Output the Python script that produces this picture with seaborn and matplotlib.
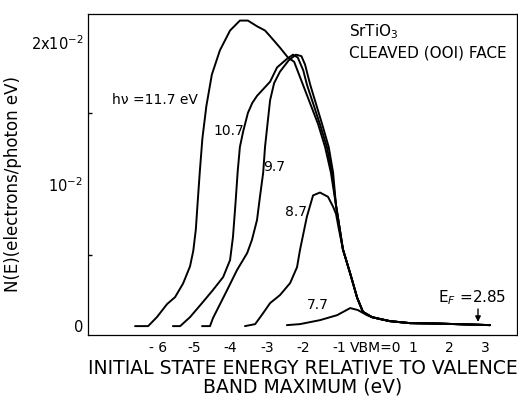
import numpy as np
import pandas as pd
import matplotlib
matplotlib.use("Agg")
import matplotlib.pyplot as plt
import seaborn as sns

# ---- data (energy in eV, N(E) in units of 1e-2 electrons/photon eV) ----
# shared high-energy tail of all spectra
tail_x = [-0.91, -0.71, -0.52, -0.36, -0.11, 0.11, 0.38, 0.93, 1.68, 3.13]
tail_y = [0.54, 0.37, 0.20, 0.10, 0.063, 0.05, 0.035, 0.021, 0.018, 0.007]

x_117 = [-6.62, -6.26, -6.02, -5.74, -5.52, -5.30, -5.11, -5.02, -4.95, -4.90, -4.84, -4.77,
         -4.66, -4.51, -4.29, -4.01, -3.74, -3.52, -3.27, -3.05, -2.91, -2.64, -2.42, -2.25,
         -2.01, -1.59, -1.40, -1.24, -1.10]
y_117 = [0.0, 0.0, 0.063, 0.155, 0.204, 0.30, 0.42, 0.53, 0.68, 0.87, 1.09, 1.32,
         1.55, 1.77, 1.94, 2.08, 2.15, 2.15, 2.11, 2.08, 2.04, 1.96, 1.89, 1.86,
         1.70, 1.42, 1.26, 1.08, 0.85]

x_107 = [-5.58, -5.38, -5.11, -4.78, -4.48, -4.20, -4.01, -3.93, -3.86, -3.80, -3.74, -3.65,
         -3.52, -3.40, -3.27, -2.91, -2.72, -2.45, -2.28, -2.15, -2.00, -1.90, -1.54, -1.35,
         -1.21, -1.10]
y_107 = [0.0, 0.0, 0.063, 0.162, 0.254, 0.345, 0.465, 0.627, 0.866, 1.09, 1.26, 1.37,
         1.50, 1.57, 1.62, 1.72, 1.82, 1.88, 1.91, 1.89, 1.80, 1.70, 1.42, 1.26,
         1.08, 0.85]

x_97 = [-4.78, -4.56, -4.48, -4.09, -3.82, -3.54, -3.41, -3.27, -3.19, -3.10, -3.05, -2.97,
        -2.91, -2.80, -2.64, -2.40, -2.20, -2.05, -1.95, -1.81, -1.48, -1.30, -1.18, -1.10]
y_97 = [0.0, 0.0, 0.056, 0.254, 0.394, 0.514, 0.606, 0.746, 0.908, 1.08, 1.26, 1.45,
        1.59, 1.71, 1.79, 1.87, 1.91, 1.90, 1.84, 1.70, 1.42, 1.26, 1.08, 0.85]

x_87 = [-3.60, -3.32, -3.10, -2.91, -2.64, -2.36, -2.17, -2.09, -1.90, -1.73, -1.54, -1.32,
        -1.18, -1.10, -1.02]
y_87 = [0.0, 0.014, 0.092, 0.162, 0.218, 0.303, 0.415, 0.535, 0.77, 0.92, 0.94, 0.91,
        0.84, 0.79, 0.68]

x_77 = [-2.45, -2.09, -1.54, -1.07, -0.71, -0.50, -0.25]
y_77 = [0.007, 0.014, 0.042, 0.077, 0.127, 0.113, 0.077]

xtick_vals = [-6, -5, -4, -3, -2, -1, 0, 1, 2, 3]
xtick_labels = ["- 6", "-5", "-4", "-3", "-2", "-1", "VBM=0", "1", "2", "3"]
ytick_vals = [0, 1, 2]
ytick_labels = ["0", "10$^{-2}$", "2x10$^{-2}$"]

curve_labels = ["h\u03bd =11.7 eV", "10.7", "9.7", "8.7", "7.7"]
label_x = [-7.25, -4.48, -3.10, -2.50, -1.90]
label_y = [1.59, 1.37, 1.12, 0.80, 0.15]

curves = [(x_117, y_117, 0), (x_107, y_107, 0), (x_97, y_97, 0), (x_87, y_87, 0), (x_77, y_77, 4)]

sns.set_theme(style="white")
plt.rcParams['font.family'] = ['DejaVu Sans']
for k in ["text.color", "axes.labelcolor", "xtick.color", "ytick.color", "axes.edgecolor"]:
    plt.rcParams[k] = "black"

fig = plt.figure(figsize=(5.18, 3.97), dpi=100)
ax = fig.add_axes([0.170, 0.156, 0.828, 0.809])

for cx, cy, start in curves:
    xs = list(cx) + tail_x[start:]
    ys = list(cy) + tail_y[start:]
    df = pd.DataFrame({"E": xs, "N": ys})
    sns.lineplot(data=df, x="E", y="N", ax=ax, color="black", lw=1.4,
                 sort=False, estimator=None, solid_joinstyle="round", solid_capstyle="round")

for t, lx, ly in zip(curve_labels, label_x, label_y):
    ax.text(lx, ly, t, fontsize=10, va="center", ha="left", color="black")

ax.text(-0.74, 2.07, "SrTiO$_3$", fontsize=11, va="center", ha="left")
ax.text(-0.74, 1.92, "CLEAVED (OOI) FACE", fontsize=11, va="center", ha="left")
ax.text(1.70, 0.20, "E$_F$ =2.85", fontsize=11, va="center", ha="left")
ax.annotate("", xy=(2.80, 0.01), xytext=(2.80, 0.14),
            arrowprops=dict(arrowstyle="-|>", color="black", lw=1.0, mutation_scale=8))

ax.set_xlim(-7.91, 3.87)
ax.set_ylim(-0.063, 2.197)
ax.set_xticks(xtick_vals)
ax.set_xticklabels(xtick_labels, fontsize=10)
ax.set_yticks(ytick_vals)
ax.set_yticklabels(ytick_labels, fontsize=10.5)
ax.set_yticks([0.5, 1.5], minor=True)
ax.tick_params(axis="both", which="major", direction="in", length=5, width=1, color="black")
ax.tick_params(axis="y", which="minor", direction="in", length=3, width=1, color="black", left=True)
ax.tick_params(axis="x", which="major", pad=4)
for s in ax.spines.values():
    s.set_color("black")
    s.set_linewidth(0.9)

ax.set_xlabel("INITIAL STATE ENERGY RELATIVE TO VALENCE\nBAND MAXIMUM (eV)",
              fontsize=13.5, linespacing=1.0, labelpad=3)
ax.set_ylabel("N(E)(electrons/photon eV)", fontsize=12)
ax.yaxis.set_label_coords(-0.155, 0.47)

fig.savefig("out.png", dpi=100)
